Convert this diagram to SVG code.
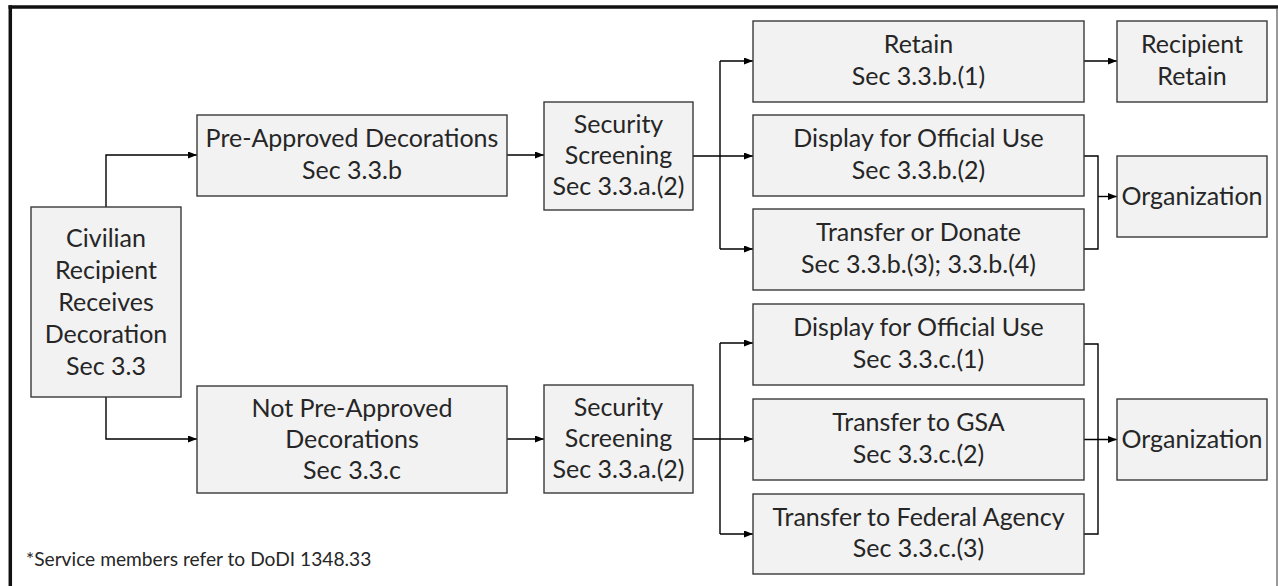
<svg xmlns="http://www.w3.org/2000/svg" width="1278" height="586" viewBox="0 0 1278 586">
<defs>
<marker id="ah" markerUnits="userSpaceOnUse" markerWidth="10" markerHeight="8" refX="9" refY="3.5" orient="auto">
<path d="M0,0 L9,3.5 L0,7 z" fill="#000"/>
</marker>
<style>
.box{fill:#f2f2f2;stroke:#3a3a3a;stroke-width:1.4}
.t{font-family:Lato,"Liberation Sans",sans-serif;font-size:25px;fill:#262626;text-anchor:middle}
.fn{font-family:Lato,"Liberation Sans",sans-serif;font-size:19.2px;fill:#262626}
.c{fill:none;stroke:#000;stroke-width:1.4}
.a{marker-end:url(#ah)}
</style>
</defs>
<rect x="0" y="0" width="1278" height="586" fill="#fff"/>
<g id="frame">
<line x1="8.5" y1="7" x2="1278" y2="7" stroke="#111" stroke-width="3.5"/>
<line x1="10.3" y1="5.3" x2="10.3" y2="586" stroke="#111" stroke-width="3.5"/>
<line x1="1277" y1="8" x2="1277" y2="586" stroke="#555" stroke-width="1.2"/>
</g>
<g id="connectors">
<path class="c a" d="M106,207 V155 H197"/>
<path class="c a" d="M106,397 V439 H197"/>
<path class="c a" d="M507,155 H544"/>
<path class="c a" d="M507,439 H544"/>
<path class="c" d="M693,156 H720 M720,61 V249"/>
<path class="c a" d="M720,61 H753"/>
<path class="c a" d="M720,156 H753"/>
<path class="c a" d="M720,249 H753"/>
<path class="c a" d="M1084,61 H1117"/>
<path class="c" d="M1084,156 H1098 V249 H1084"/>
<path class="c a" d="M1098,196.5 H1117"/>
<path class="c" d="M693,439 H720 M720,343 V534"/>
<path class="c a" d="M720,343 H753"/>
<path class="c a" d="M720,439 H753"/>
<path class="c a" d="M720,534 H753"/>
<path class="c" d="M1084,344 H1098 V534 H1084"/>
<path class="c a" d="M1084,439.5 H1117"/>
</g>
<g id="civilian">
<rect class="box" x="31" y="207" width="150" height="190"/>
<text class="t" x="106" y="246.5">Civilian</text>
<text class="t" x="106" y="278.5">Recipient</text>
<text class="t" x="106" y="310.5">Receives</text>
<text class="t" x="106" y="342.5">Decoration</text>
<text class="t" x="106" y="374.5">Sec 3.3</text>
</g>
<g id="preapproved">
<rect class="box" x="197" y="115" width="310" height="81"/>
<text class="t" x="352" y="147">Pre-Approved Decorations</text>
<text class="t" x="352" y="178.5">Sec 3.3.b</text>
</g>
<g id="notpreapproved">
<rect class="box" x="197" y="386" width="310" height="107"/>
<text class="t" x="352" y="416.5">Not Pre-Approved</text>
<text class="t" x="352" y="447.5">Decorations</text>
<text class="t" x="352" y="478.5">Sec 3.3.c</text>
</g>
<g id="screening1">
<rect class="box" x="544" y="102" width="149" height="108"/>
<text class="t" x="618.5" y="133">Security</text>
<text class="t" x="618.5" y="164">Screening</text>
<text class="t" x="618.5" y="195">Sec 3.3.a.(2)</text>
</g>
<g id="screening2">
<rect class="box" x="544" y="385" width="149" height="108"/>
<text class="t" x="618.5" y="416">Security</text>
<text class="t" x="618.5" y="447">Screening</text>
<text class="t" x="618.5" y="478">Sec 3.3.a.(2)</text>
</g>
<g id="retain">
<rect class="box" x="753" y="21" width="331" height="81"/>
<text class="t" x="918.5" y="53">Retain</text>
<text class="t" x="918.5" y="84.5">Sec 3.3.b.(1)</text>
</g>
<g id="display1">
<rect class="box" x="753" y="115" width="331" height="81"/>
<text class="t" x="918.5" y="147">Display for Official Use</text>
<text class="t" x="918.5" y="178.5">Sec 3.3.b.(2)</text>
</g>
<g id="transferdonate">
<rect class="box" x="753" y="209" width="331" height="81"/>
<text class="t" x="918.5" y="241">Transfer or Donate</text>
<text class="t" x="918.5" y="272.5">Sec 3.3.b.(3); 3.3.b.(4)</text>
</g>
<g id="recipientretain">
<rect class="box" x="1117" y="21" width="150" height="81"/>
<text class="t" x="1192" y="53">Recipient</text>
<text class="t" x="1192" y="84.5">Retain</text>
</g>
<g id="organization1">
<rect class="box" x="1117" y="156" width="150" height="81"/>
<text class="t" x="1192" y="205">Organization</text>
</g>
<g id="display2">
<rect class="box" x="753" y="304" width="331" height="81"/>
<text class="t" x="918.5" y="336">Display for Official Use</text>
<text class="t" x="918.5" y="367.5">Sec 3.3.c.(1)</text>
</g>
<g id="gsa">
<rect class="box" x="753" y="399" width="331" height="81"/>
<text class="t" x="918.5" y="431">Transfer to GSA</text>
<text class="t" x="918.5" y="462.5">Sec 3.3.c.(2)</text>
</g>
<g id="federal">
<rect class="box" x="753" y="494" width="331" height="80"/>
<text class="t" x="918.5" y="525.5">Transfer to Federal Agency</text>
<text class="t" x="918.5" y="557">Sec 3.3.c.(3)</text>
</g>
<g id="organization2">
<rect class="box" x="1117" y="399" width="150" height="81"/>
<text class="t" x="1192" y="448">Organization</text>
</g>
<g id="footnote">
<text class="fn" x="26" y="566">*Service members refer to DoDI 1348.33</text>
</g>
</svg>
